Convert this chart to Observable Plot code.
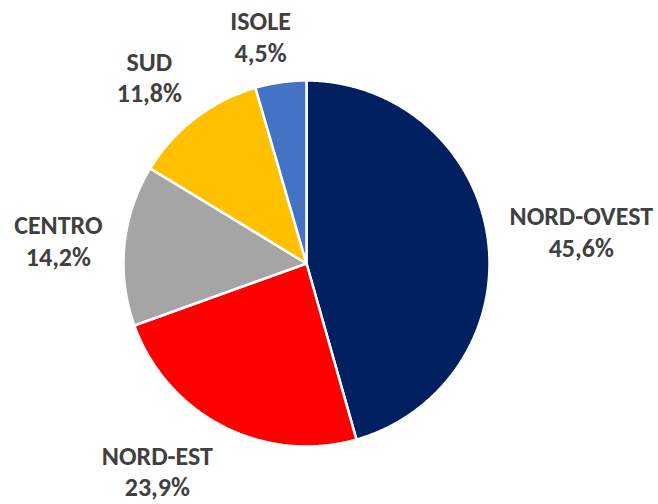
<!DOCTYPE html>
<html><head><meta charset="utf-8">
<script src="https://cdn.jsdelivr.net/npm/d3@7"></script>
<script src="https://cdn.jsdelivr.net/npm/@observablehq/plot@0.6"></script>
<style>body{margin:0;background:#fff}</style>
</head><body><div id="chart"></div>
<script>
const regions = ["NORD-OVEST", "NORD-EST", "CENTRO", "SUD", "ISOLE"];
const shares = [45.6, 23.9, 14.2, 11.8, 4.5];
const shareLabels = ["45,6%", "23,9%", "14,2%", "11,8%", "4,5%"];
const colors = ["#002060", "#FF0000", "#A5A5A5", "#FFC000", "#4472C4"];

const W = 658, H = 504, cx = 306, cy = 263, R = 183;
const fontFamily = "Carlito, Calibri, Lato, sans-serif";
const fontSize = 26;

const ctx = document.createElement("canvas").getContext("2d");
ctx.font = `bold ${fontSize}px ${fontFamily}`;

const total = d3.sum(shares);
const points = [];
const labels = [];
let acc = 0;
regions.forEach((region, i) => {
  const a0 = acc / total * 2 * Math.PI;
  acc += shares[i];
  const a1 = acc / total * 2 * Math.PI;
  points.push({region, x: 0, y: 0});
  const n = Math.max(2, Math.ceil((a1 - a0) / (Math.PI / 360)));
  for (let k = 0; k <= n; k++) {
    const a = a0 + (a1 - a0) * k / n;
    points.push({region, x: Math.sin(a), y: Math.cos(a)});
  }
  points.push({region, x: 0, y: 0});
  // outside-end label: nearest box edge/corner sits on the mid-angle ray
  const am = (a0 + a1) / 2;
  const s = Math.sin(am), c = Math.cos(am);
  const w = Math.max(ctx.measureText(region).width, ctx.measureText(shareLabels[i]).width);
  const h = 49;
  const D = 1.12;
  const fx = Math.max(-1, Math.min(1, 4 * s));
  const fy = Math.max(-1, Math.min(1, 1.3 * c));
  labels.push({
    text: region + "\n" + shareLabels[i],
    x: D * s + fx * w / 2 / R,
    y: D * c + fy * h / 2 / R
  });
});

const chart = Plot.plot({
  width: W, height: H,
  margin: 0,
  x: {domain: [-cx / R, (W - cx) / R], axis: null},
  y: {domain: [-(H - cy) / R, cy / R], axis: null},
  color: {domain: regions, range: colors},
  style: {background: "#fff"},
  marks: [
    Plot.line(points, {x: "x", y: "y", z: "region", fill: "region", stroke: "white", strokeWidth: 2.5, strokeLinejoin: "round"}),
    Plot.text(labels, {x: "x", y: "y", text: "text", fontSize, fontWeight: "bold", fontFamily, fill: "#404040", lineHeight: 1.22, lineAnchor: "middle", textAnchor: "middle"})
  ]
});
document.getElementById("chart").appendChild(chart);
</script></body></html>
